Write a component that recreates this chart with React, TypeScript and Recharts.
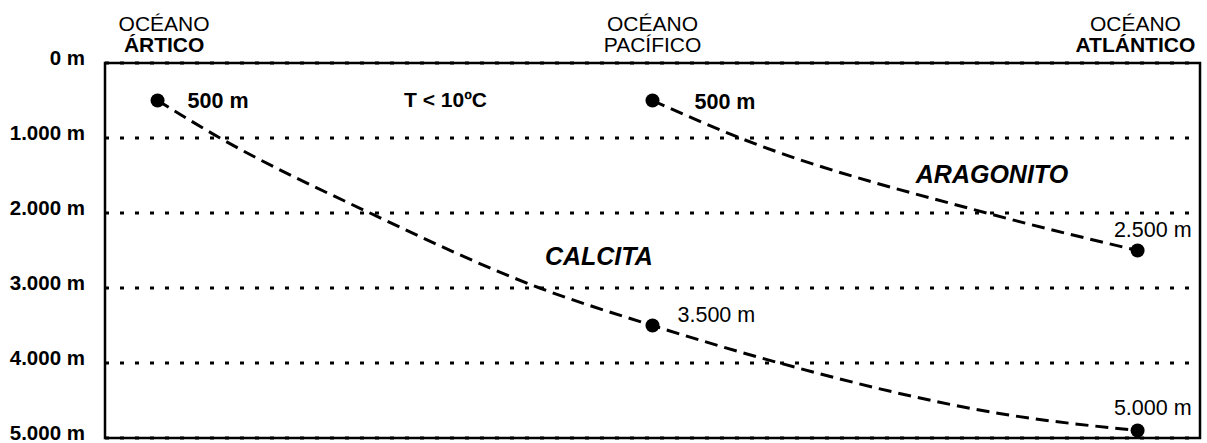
import React from "react";
import {
  ComposedChart,
  Line,
  Scatter,
  XAxis,
  YAxis,
  CartesianGrid,
  ReferenceArea,
  ReferenceDot,
} from "recharts";

// horizontal position is a 0-100 share of the plot width
const oceanNames = [
  ["OCÉANO", "ÁRTICO"],
  ["OCÉANO", "PACÍFICO"],
  ["OCÉANO", "ATLÁNTICO"],
];
const oceanLabelX = [5.4, 50, 94.1];

const depthTicks = [0, 1000, 2000, 3000, 4000, 5000];
const depthTickLabels = ["0 m", "1.000 m", "2.000 m", "3.000 m", "4.000 m", "5.000 m"];

// dashed curves
const calcitaX = [4.8, 10.5, 24.2, 39.7, 50, 61.6, 82.4, 94.3];
const calcitaDepth = [500, 1000, 2000, 3000, 3500, 4000, 4690, 4900];
const aragonitoX = [50, 58, 80.5, 94.3];
const aragonitoDepth = [500, 1000, 2000, 2500];

// measured points
const stationX = [4.8, 50, 50, 94.3, 94.3];
const stationDepth = [500, 500, 3500, 2500, 4900];
const stationLabels = ["500 m", "500 m", "3.500 m", "2.500 m", "5.000 m"];

const notes = ["T < 10ºC", "CALCITA", "ARAGONITO"];
const noteX = [31.1, 45.1, 81.0];
const noteDepth = [587, 2693, 1600];

const FONT = "'Liberation Sans', Arial, sans-serif";

const calcitaData = calcitaX.map((x, i) => ({ x, depth: calcitaDepth[i] }));
const aragonitoData = aragonitoX.map((x, i) => ({ x, depth: aragonitoDepth[i] }));
const stationData = stationX.map((x, i) => ({
  x,
  depth: stationDepth[i],
  label: stationLabels[i],
  idx: i,
}));

// label placement next to each dot: dx, dy (baseline), anchor, weight
const labelPos = [
  { dx: 30, dy: 7, anchor: "start", weight: "bold" },
  { dx: 42, dy: 8, anchor: "start", weight: "bold" },
  { dx: 25, dy: -4, anchor: "start", weight: "normal" },
  { dx: 54, dy: -14, anchor: "end", weight: "normal" },
  { dx: 54, dy: -16, anchor: "end", weight: "normal" },
];

const noteStyle = [
  { size: 21, weight: "bold", italic: false },
  { size: 25, weight: "bold", italic: true },
  { size: 25, weight: "bold", italic: true },
];

function OceanTick(props: any) {
  const { x, index } = props;
  const [a, b] = oceanNames[index];
  return (
    <g fontFamily={FONT} fontSize={21} fill="#000">
      <text x={x} y={31} textAnchor="middle">
        {a}
      </text>
      <text x={x} y={52} textAnchor="middle" fontWeight={index === 1 ? "normal" : "bold"}>
        {b}
      </text>
    </g>
  );
}

function DepthTick(props: any) {
  const { x, y, index } = props;
  return (
    <text
      x={x - 12}
      y={y + 2}
      textAnchor="end"
      fontFamily={FONT}
      fontSize={20.5}
      fontWeight="bold"
      fill="#000"
    >
      {depthTickLabels[index]}
    </text>
  );
}

function StationDot(props: any) {
  const { cx, cy, payload } = props;
  const p = labelPos[payload.idx];
  return (
    <g>
      <circle cx={cx} cy={cy} r={7} fill="#000" />
      <text
        x={cx + p.dx}
        y={cy + p.dy}
        textAnchor={p.anchor}
        fontFamily={FONT}
        fontSize={21.5}
        fontWeight={p.weight}
        fill="#000"
      >
        {payload.label}
      </text>
    </g>
  );
}

function NoteLabel(i: number) {
  return (props: any) => {
    const { viewBox } = props;
    const s = noteStyle[i];
    return (
      <text
        x={viewBox.x}
        y={viewBox.y}
        textAnchor="middle"
        fontFamily={FONT}
        fontSize={s.size}
        fontWeight={s.weight}
        fontStyle={s.italic ? "italic" : "normal"}
        fill="#000"
      >
        {notes[i]}
      </text>
    );
  };
}

export default function App() {
  return (
    <div style={{ position: "absolute", left: 0, top: 0, background: "#fff" }}>
      <ComposedChart
        width={1207}
        height={443}
        margin={{ top: 0, right: 7, bottom: 5, left: 0 }}
      >
        <CartesianGrid
          vertical={false}
          stroke="#000"
          strokeWidth={3}
          strokeDasharray="4 11"
        />
        <XAxis
          type="number"
          dataKey="x"
          domain={[0, 100]}
          orientation="top"
          height={63}
          ticks={oceanLabelX}
          interval={0}
          axisLine={false}
          tickLine={false}
          tick={<OceanTick />}
        />
        <YAxis
          type="number"
          dataKey="depth"
          domain={[0, 5000]}
          reversed
          width={105}
          ticks={depthTicks}
          interval={0}
          axisLine={false}
          tickLine={false}
          tick={<DepthTick />}
        />
        <ReferenceArea
          x1={0}
          x2={100}
          y1={0}
          y2={5000}
          fill="none"
          stroke="#000"
          strokeWidth={2.5}
          fillOpacity={0}
        />
        <Line
          data={calcitaData}
          dataKey="depth"
          type="monotone"
          stroke="#000"
          strokeWidth={3}
          strokeDasharray="13 7"
          dot={false}
          activeDot={false}
          isAnimationActive={false}
        />
        <Line
          data={aragonitoData}
          dataKey="depth"
          type="monotone"
          stroke="#000"
          strokeWidth={3}
          strokeDasharray="13 7"
          dot={false}
          activeDot={false}
          isAnimationActive={false}
        />
        <Scatter
          data={stationData}
          dataKey="depth"
          shape={<StationDot />}
          isAnimationActive={false}
        />
        {notes.map((n, i) => (
          <ReferenceDot
            key={n}
            x={noteX[i]}
            y={noteDepth[i]}
            r={0}
            fill="none"
            stroke="none"
            label={NoteLabel(i)}
          />
        ))}
      </ComposedChart>
    </div>
  );
}
